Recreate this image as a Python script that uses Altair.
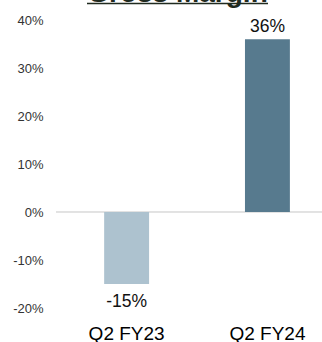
import altair as alt
import pandas as pd

categories = ["Q2 FY23", "Q2 FY24"]
values = [-15, 36]
colors = ["#adc2cf", "#577a8e"]
title_text = "Gross Margin"

df = pd.DataFrame({"cat": categories, "val": values, "color": colors})
df["label"] = df["val"].astype(str) + "%"

W, H = 266, 288
FONT = "Liberation Sans"

x = alt.X("cat:N", sort=categories, title=None,
          scale=alt.Scale(paddingInner=0.681, paddingOuter=0.285, align=0.6),
          axis=alt.Axis(domain=False, ticks=False, labelAngle=0, labelFontSize=19,
                        labelPadding=16, labelColor="#000", labelFont=FONT))
y = alt.Y("val:Q", title=None,
          scale=alt.Scale(domain=[-20, 40], nice=False),
          axis=alt.Axis(domain=False, ticks=False, grid=False, values=[-20, -10, 0, 10, 20, 30, 40],
                        labelExpr="datum.value + '%'", labelFontSize=13, labelPadding=13,
                        labelColor="#333", labelFont=FONT))

base = alt.Chart(df)
bars = base.mark_bar().encode(x=x, y=y, color=alt.Color("color:N", scale=None))
zero = alt.Chart(df).mark_rule(color="#d9d9d9", strokeWidth=1).encode(y=alt.datum(0))
pos = base.transform_filter("datum.val >= 0").mark_text(
    baseline="alphabetic", dy=-7, fontSize=17.5, font=FONT, color="#111").encode(x=x, y=y, text="label:N")
neg = base.transform_filter("datum.val < 0").mark_text(
    baseline="top", dy=9, fontSize=17.5, font=FONT, color="#111").encode(x=x, y=y, text="label:N")
title = alt.Chart(df).transform_filter("datum.cat == 'Q2 FY23'").mark_text(
    text=title_text, fontSize=28, fontWeight="bold", font=FONT, color="#1f2a1f",
    baseline="alphabetic", align="center").encode(x=alt.value(121.5), y=alt.value(-18.5))
underline = alt.Chart(df).transform_filter("datum.cat == 'Q2 FY23'").mark_rule(
    color="#1f2a1f", strokeWidth=1.6).encode(x=alt.value(31), x2=alt.value(212), y=alt.value(-16.5))

chart = alt.layer(zero, bars, pos, neg, title, underline).properties(
    width=W, height=H,
    autosize=alt.AutoSizeParams(type="none"),
    padding={"left": 56, "top": 20, "right": 0, "bottom": 34},
).configure(background="white", view=alt.ViewConfig(stroke=None))

chart.save("out.html", embed_options={"renderer": "svg", "actions": False})
